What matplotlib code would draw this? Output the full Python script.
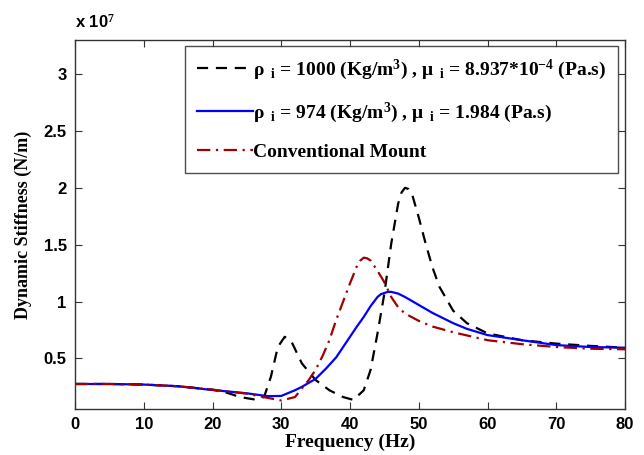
import matplotlib
matplotlib.use("Agg")
import matplotlib.pyplot as plt
from matplotlib.ticker import FuncFormatter, MultipleLocator

# Data (stiffness in units of 1e7 N/m)
freq_water = [0, 5, 10, 15, 20, 22, 24, 26, 27.5, 28.5, 29.5, 30.5, 31.5, 33, 35, 37, 39, 40.5,
              42, 43, 44, 45, 46, 47, 47.5, 48, 48.5, 49, 50, 51, 52, 53, 55, 57, 60, 65, 70, 75, 80]
stiff_water = [0.275, 0.275, 0.27, 0.255, 0.225, 0.2, 0.16, 0.14, 0.16, 0.34, 0.60, 0.69, 0.646, 0.456, 0.31, 0.22, 0.16, 0.135,
               0.22, 0.40, 0.72, 1.07, 1.51, 1.86, 1.96, 2.0, 1.99, 1.95, 1.74, 1.51, 1.30, 1.13, 0.92, 0.81, 0.72, 0.66, 0.63, 0.61, 0.594]

freq_glyc = [0, 5, 10, 15, 20, 25, 28, 30, 32, 33, 35, 36.5, 38, 39, 40, 41, 42, 43, 44, 44.5, 45.5, 46, 47, 48, 50, 52, 55, 57, 60, 65, 70, 75, 80]
stiff_glyc = [0.275, 0.275, 0.27, 0.255, 0.222, 0.193, 0.168, 0.17, 0.22, 0.25, 0.32, 0.41, 0.51, 0.60, 0.69, 0.78, 0.865, 0.96, 1.04, 1.065, 1.085, 1.085, 1.07, 1.04, 0.97, 0.9, 0.81, 0.76, 0.705, 0.66, 0.617, 0.60, 0.594]

freq_conv = [0, 5, 10, 15, 20, 25, 27, 30, 32, 34, 35, 36, 37, 38, 39, 40, 41, 41.5, 42, 42.5, 43, 44, 44.5, 45, 46, 47, 48, 50, 52, 55, 60, 65, 70, 75, 80]
stiff_conv = [0.275, 0.275, 0.27, 0.255, 0.225, 0.19, 0.165, 0.13, 0.16, 0.31, 0.40, 0.52, 0.66, 0.84, 1.0, 1.16, 1.31, 1.36, 1.386, 1.38, 1.36, 1.27, 1.22, 1.17, 1.04, 0.95, 0.895, 0.83, 0.78, 0.73, 0.66, 0.625, 0.60, 0.585, 0.58]

labels = [
    r"ρ$_{\ \ \mathrm{i}}$ = 1000 (Kg/m$^{3}$) , μ$_{\ \ \mathrm{i}}$ = 8.937*10$^{-4}$ (Pa.s)$\ \ $",
    r"ρ$_{\ \ \mathrm{i}}$ = 974 (Kg/m$^{3}$) , μ$_{\ \ \mathrm{i}}$ = 1.984 (Pa.s)",
    "Conventional Mount",
]

plt.rcParams['mathtext.fontset'] = 'custom'
plt.rcParams['mathtext.rm'] = 'Liberation Serif:bold'
plt.rcParams['mathtext.it'] = 'Liberation Serif:italic:bold'
plt.rcParams['mathtext.bf'] = 'Liberation Serif:bold'

fig = plt.figure(figsize=(6.44, 4.55), dpi=100)
ax = fig.add_axes([75/644, 1-409/455, 550/644, 369/455])

ax.plot(freq_water, stiff_water, color='black', lw=1.6, linestyle=(0, (5, 3.5)), label=labels[0])
ax.plot(freq_glyc, stiff_glyc, color='#0000FF', lw=1.6, linestyle='-', label=labels[1])
ax.plot(freq_conv, stiff_conv, color='#A00000', lw=1.6, linestyle=(0, (6, 2.5, 1, 2.5)), label=labels[2])

ax.set_xlim(0, 80)
ax.set_ylim(0.055, 3.3)
ax.xaxis.set_major_locator(MultipleLocator(10))
ax.yaxis.set_major_locator(MultipleLocator(0.5))
ax.yaxis.set_major_formatter(FuncFormatter(lambda v, p: ('%g' % v)))

ax.tick_params(direction='in', top=True, right=True, length=5, width=0.8, color='#333333', pad=6)
for lab in ax.get_xticklabels() + ax.get_yticklabels():
    lab.set_fontfamily('Liberation Sans')
    lab.set_fontweight('bold')
    lab.set_fontsize(12)
for s in ax.spines.values():
    s.set_linewidth(1.0)
    s.set_color('#333333')

ax.set_xlabel('Frequency (Hz)', fontfamily='Liberation Serif', fontweight='bold', fontsize=14, labelpad=1)
ax.set_ylabel('Dynamic Stiffness (N/m)', fontfamily='Liberation Serif', fontweight='bold', fontsize=13, labelpad=8)

ax.text(0.0, 1.025, r'x 10$^{7}$', transform=ax.transAxes, fontfamily='Liberation Sans',
        fontweight='bold', fontsize=12, ha='left', va='bottom')

leg = ax.legend(loc='upper right', bbox_to_anchor=(543/550, 363/369),
                prop={'family': 'Liberation Serif', 'weight': 'bold', 'size': 14},
                frameon=True, fancybox=False, edgecolor='#222222', handlelength=2.9, handletextpad=0.0,
                labelspacing=0.95, borderpad=0.6, borderaxespad=0)
leg.get_frame().set_linewidth(1.0)

fig.savefig('out.png', dpi=100)
